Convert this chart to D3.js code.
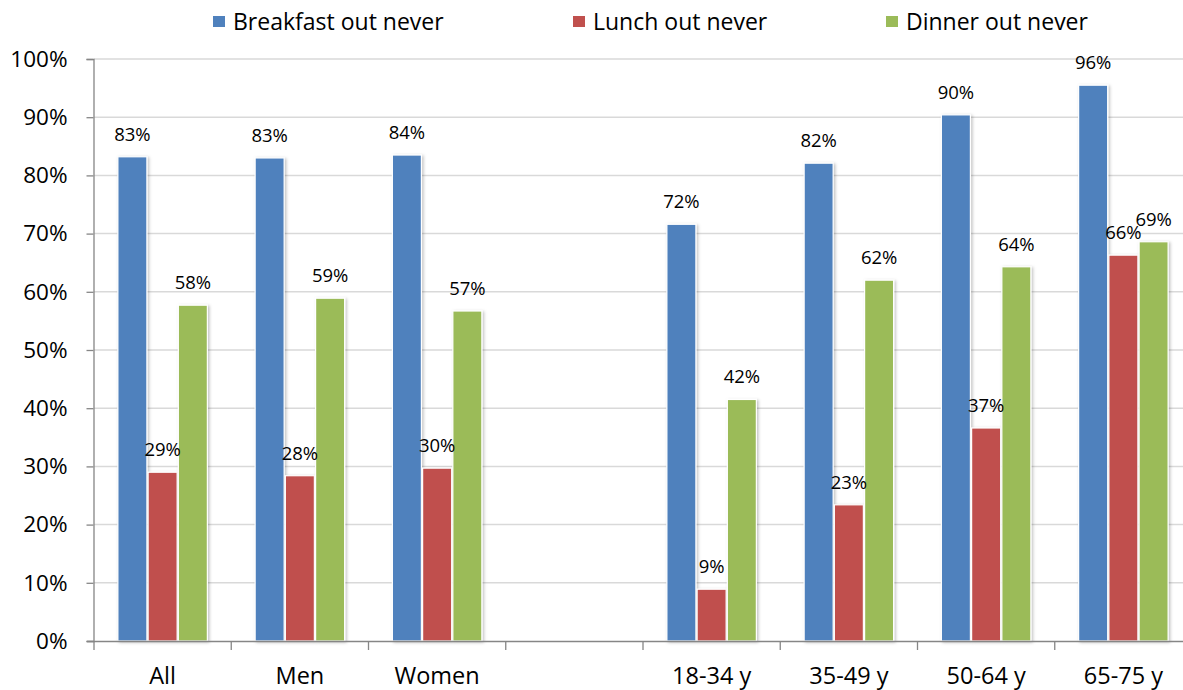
<!DOCTYPE html>
<html>
<head>
<meta charset="utf-8">
<script src="https://cdn.jsdelivr.net/npm/d3@7"></script>
<style>
  html, body { margin: 0; padding: 0; background: #fff; }
  svg { display: block; font-family: "Open Sans", Lato, sans-serif; }
</style>
</head>
<body>
<svg id="chart" width="1183" height="690"></svg>
<script>
// Share of respondents who never eat each meal out, by group
const categories = ["All", "Men", "Women", "", "18-34 y", "35-49 y", "50-64 y", "65-75 y"];
const seriesNames = ["Breakfast out never", "Lunch out never", "Dinner out never"];
const breakfast = [83.2, 83.0, 83.5, null, 71.6, 82.1, 90.4, 95.5];
const lunch     = [29.0, 28.4, 29.7, null, 8.9, 23.4, 36.6, 66.3];
const dinner    = [57.7, 58.9, 56.7, null, 41.5, 62.0, 64.3, 68.6];
const yTicks = [0, 10, 20, 30, 40, 50, 60, 70, 80, 90, 100];
const colors = ["#4f81bd", "#c0504d", "#9bbb59"];

const seriesValues = [breakfast, lunch, dinner];
const slotKeys = categories.map((c, i) => i);

const svg = d3.select("#chart");
const plotLeft = 94, plotRight = 1192, plotTop = 59, plotBottom = 641;

const x = d3.scaleBand().domain(slotKeys).range([plotLeft, plotRight]).paddingInner(0).paddingOuter(0);
const bw = x.bandwidth();
const x1 = d3.scaleBand().domain(d3.range(seriesNames.length))
  .range([bw * 0.174, bw * 0.826]).paddingInner(0.04);
const y = d3.scaleLinear().domain([0, 100]).range([plotBottom, plotTop]);

const defs = svg.append("defs");
const shadow = defs.append("filter").attr("id", "barShadow")
  .attr("x", "-20%").attr("y", "-5%").attr("width", "150%").attr("height", "115%");
shadow.append("feDropShadow").attr("dx", 1.5).attr("dy", 1).attr("stdDeviation", 1.6)
  .attr("flood-color", "#000").attr("flood-opacity", 0.25);

// horizontal gridlines
svg.append("g").selectAll("line").data(yTicks.filter(t => t > 0)).join("line")
  .attr("x1", plotLeft).attr("x2", plotRight)
  .attr("y1", d => y(d)).attr("y2", d => y(d))
  .attr("stroke", "#d9d9d9").attr("stroke-width", 1.5);

// y axis
const yAxis = d3.axisLeft(y).tickValues(yTicks).tickFormat(d => d + "%").tickSize(7).tickPadding(19);
const gy = svg.append("g").attr("transform", `translate(${plotLeft - 0.5},0)`).call(yAxis);
gy.select(".domain").attr("stroke", "#868686").attr("stroke-width", 1.3);
gy.selectAll(".tick line").attr("stroke", "#868686").attr("stroke-width", 1.3);
gy.selectAll(".tick text").attr("font-size", 22.5).attr("fill", "#000")
  .attr("font-family", "'Open Sans', Lato, sans-serif");

// bars
const groups = svg.append("g").selectAll("g").data(slotKeys).join("g")
  .attr("transform", d => `translate(${x(d)},0)`);

groups.each(function (ci) {
  const g = d3.select(this);
  seriesValues.forEach((vals, si) => {
    const v = vals[ci];
    if (v == null) return;
    g.append("rect")
      .attr("x", x1(si)).attr("width", x1.bandwidth())
      .attr("y", y(v)).attr("height", y(0) - y(v))
      .attr("fill", colors[si])
      .attr("stroke", "#fff").attr("stroke-width", 1.2)
      .attr("filter", "url(#barShadow)");
  });
});

// value labels
groups.each(function (ci) {
  const g = d3.select(this);
  seriesValues.forEach((vals, si) => {
    const v = vals[ci];
    if (v == null) return;
    g.append("text")
      .attr("x", x1(si) + x1.bandwidth() / 2)
      .attr("y", y(v) - 16)
      .attr("text-anchor", "middle")
      .attr("font-size", 18.5)
      .attr("fill", "#000")
      .text(Math.round(v) + "%");
  });
});

// x axis
svg.append("line").attr("x1", plotLeft - 7).attr("x2", plotRight)
  .attr("y1", plotBottom + 0.5).attr("y2", plotBottom + 0.5)
  .attr("stroke", "#868686").attr("stroke-width", 1.3);
const boundaries = slotKeys.map(k => x(k)).concat([plotRight]);
svg.append("g").selectAll("line").data(boundaries).join("line")
  .attr("x1", d => d).attr("x2", d => d)
  .attr("y1", plotBottom).attr("y2", plotBottom + 9)
  .attr("stroke", "#868686").attr("stroke-width", 1.3);
svg.append("g").selectAll("text").data(slotKeys).join("text")
  .attr("x", d => x(d) + bw / 2)
  .attr("y", 684)
  .attr("text-anchor", "middle")
  .attr("font-size", 23.5)
  .attr("fill", "#000")
  .text(d => categories[d]);

// legend
const legendX = [213, 573, 886];
const legend = svg.append("g").selectAll("g").data(seriesNames).join("g")
  .attr("transform", (d, i) => `translate(${legendX[i]},0)`);
legend.append("rect").attr("x", 0).attr("y", 16).attr("width", 12).attr("height", 11)
  .attr("fill", (d, i) => colors[i]);
legend.append("text").attr("x", 20).attr("y", 29.5)
  .attr("font-size", 23).attr("fill", "#000")
  .text(d => d);
</script>
</body>
</html>
